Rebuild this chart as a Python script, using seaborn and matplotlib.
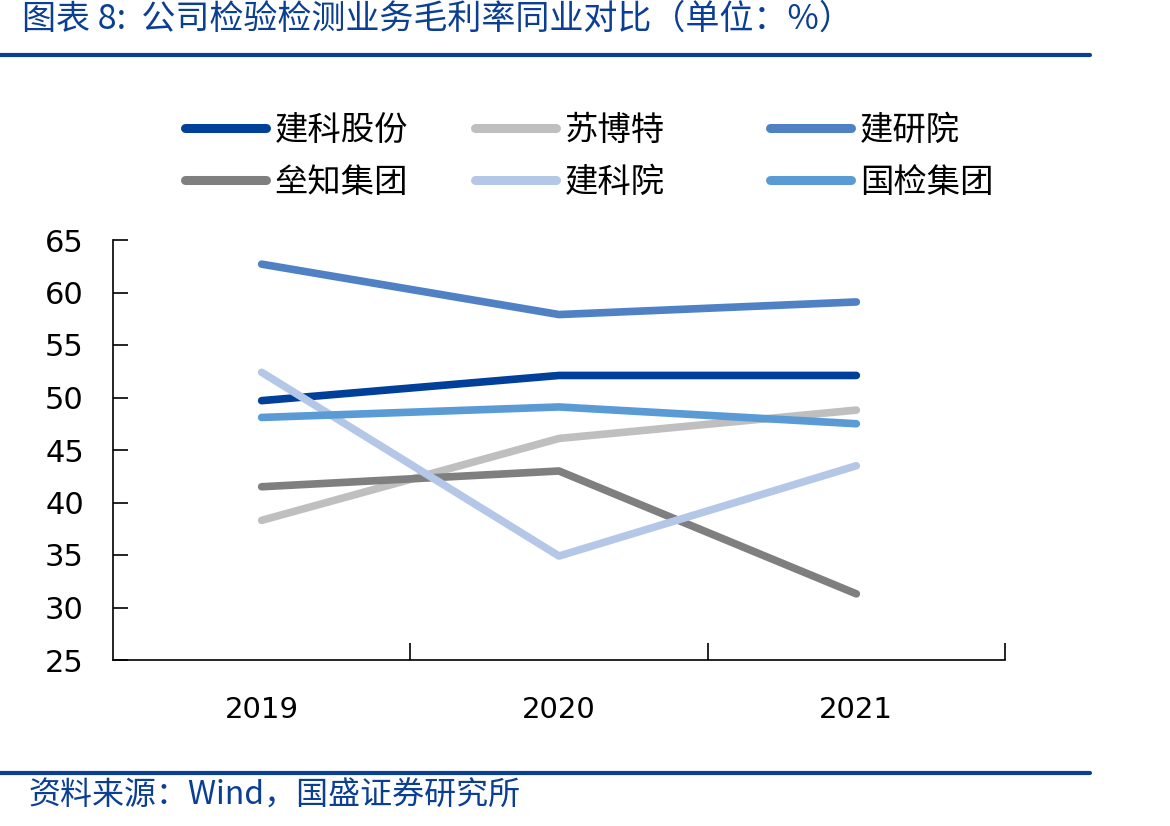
import matplotlib
matplotlib.use("Agg")
import matplotlib.pyplot as plt
from matplotlib.lines import Line2D
import seaborn as sns
import pandas as pd

years = ["2019", "2020", "2021"]
companies = ["建科股份", "苏博特", "建研院", "垒知集团", "建科院", "国检集团"]
jkgf = [49.7, 52.1, 52.1]
sbt = [38.3, 46.1, 48.8]
jyy = [62.7, 57.9, 59.1]
lzjt = [41.5, 43.0, 31.3]
jky = [52.4, 34.9, 43.5]
gjjt = [48.1, 49.1, 47.5]
colors = ["#00409A", "#BFBFBF", "#4F81C4", "#7F7F7F", "#B4C7E7", "#5B9BD5"]

series = [jkgf, sbt, jyy, lzjt, jky, gjjt]
df = pd.DataFrame(
    [(c, y, v) for c, vals in zip(companies, series) for y, v in zip(years, vals)],
    columns=["company", "year", "margin"],
)

sns.set_theme(style="white")
plt.rcParams["font.family"] = ["Noto Sans CJK SC", "DejaVu Sans"]
plt.rcParams["axes.unicode_minus"] = False

fig = plt.figure(figsize=(11.7, 8.26), dpi=100)
ax = fig.add_axes([113 / 1170, 1 - 660 / 826, (1005 - 113) / 1170, 420 / 826])

palette = dict(zip(companies, colors))
sns.lineplot(data=df, x="year", y="margin", hue="company", hue_order=companies,
             palette=palette, linewidth=5.5, ax=ax, legend=False, sort=False)
for ln in ax.get_lines():
    ln.set_solid_capstyle("round")
    ln.set_solid_joinstyle("round")

ax.set_xlim(-0.5, 2.5)
ax.set_ylim(25, 65)
ax.set_yticks(range(25, 66, 5))
ax.set_xlabel("")
ax.set_ylabel("")
for s in ["top", "right"]:
    ax.spines[s].set_visible(False)
for s in ["left", "bottom"]:
    ax.spines[s].set_color("black")
    ax.spines[s].set_linewidth(1.2)

num_font = ["DejaVu Sans"]
ax.tick_params(axis="y", direction="in", length=11, width=1.2, color="black",
               labelsize=22, pad=21, left=True)
ax.tick_params(axis="x", which="major", length=0, labelsize=21, pad=26)
ax.set_xticks([0.5, 1.5, 2.5], minor=True)
ax.tick_params(axis="x", which="minor", direction="in", length=12, width=1.2,
               color="black", bottom=True)
for lab in ax.get_xticklabels() + ax.get_yticklabels():
    lab.set_family(num_font)
    lab.set_color("black")

# legend: three fixed-width columns
handles = [Line2D([], [], color=c, lw=6.5, solid_capstyle="round") for c in colors]
col_x = [168 / 1170, 458 / 1170, 753 / 1170]
for i, x0 in enumerate(col_x):
    idx = [i, i + 3]
    leg = fig.legend([handles[j] for j in idx], [companies[j] for j in idx],
                     loc="upper left", bbox_to_anchor=(x0, 1 - 96 / 826),
                     frameon=False, fontsize=24, handlelength=2.45,
                     handletextpad=0.25, labelspacing=0.52, borderpad=0)
    for t in leg.get_texts():
        t.set_color("black")

blue = "#0B3F93"
fig.text(22 / 1170, 1 - 19 / 826, "图表 8:  公司检验检测业务毛利率同业对比（单位：%）",
         fontsize=24.5, color=blue, style="italic", va="center", ha="left")
fig.add_artist(Line2D([0, 1090 / 1170], [1 - 55 / 826] * 2, color=blue, lw=3))
fig.add_artist(Line2D([0, 1090 / 1170], [1 - 773 / 826] * 2, color=blue, lw=3))
fig.text(28 / 1170, 1 - 796 / 826, "资料来源：Wind，国盛证券研究所",
         fontsize=23, color=blue, style="italic", va="center", ha="left")

fig.savefig("out.png", dpi=100)
